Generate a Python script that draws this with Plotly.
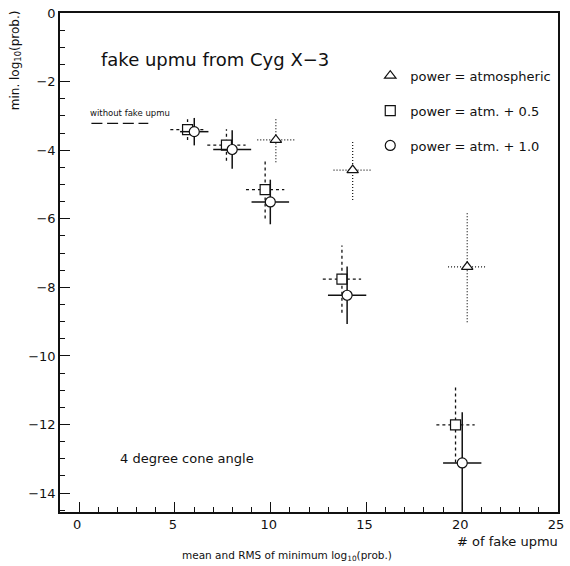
import plotly.graph_objects as go

# ---------------- data ----------------
atm_x = [10.27, 14.28, 20.26]
atm_y = [-3.70, -4.58, -7.40]
atm_ex = [0.97, 1.00, 1.00]
atm_ey = [0.65, 0.87, 1.62]

p05_x = [5.66, 7.69, 9.71, 13.72, 19.65]
p05_y = [-3.40, -3.85, -5.15, -7.76, -12.01]
p05_ex = [0.90, 1.00, 1.00, 1.00, 1.00]
p05_ey = [0.30, 0.46, 0.84, 0.98, 1.10]

p10_x = [6.01, 7.99, 9.98, 13.99, 20.0]
p10_y = [-3.46, -3.98, -5.51, -8.23, -13.12]
p10_ex = [0.74, 0.99, 0.98, 1.00, 1.00]
p10_ey = [0.40, 0.56, 0.65, 0.84, 1.48]

baseline_level = -3.22          # "without fake upmu"
baseline_x_span = [0.64, 3.61]

series_names = ["power = atmospheric", "power = atm. + 0.5", "power = atm. + 1.0"]

x_range = [-1, 25]
y_range = [-14.55, 0]

# ---------------- layout geometry ----------------
W, H = 570, 566
ML, MR, MT, MB = 60, 6, 10, 54
PW, PH = W - ML - MR, H - MT - MB


def px(xp):
    return (xp - ML) / PW


def py(yp):
    return (H - MB - yp) / PH


def cross_segments(xs, ys, exs, eys):
    hx, hy, vx, vy = [], [], [], []
    for x, y, ex, ey in zip(xs, ys, exs, eys):
        hx += [x - ex, x + ex, None]
        hy += [y, y, None]
        vx += [x, x, None]
        vy += [y - ey, y + ey, None]
    return hx, hy, vx, vy


FONT = "DejaVu Sans"
INK = "#111111"

fig = go.Figure()

styles = [
    (atm_x, atm_y, atm_ex, atm_ey, "triangle-up", "1px,2px", 1.2, series_names[0]),
    (p05_x, p05_y, p05_ex, p05_ey, "square", "3px,3px", 1.3, series_names[1]),
    (p10_x, p10_y, p10_ex, p10_ey, "circle", "solid", 1.5, series_names[2]),
]

for i, (xs, ys, exs, eys, sym, dash, lw, name) in enumerate(styles):
    hx, hy, vx, vy = cross_segments(xs, ys, exs, eys)
    for sx, sy in ((hx, hy), (vx, vy)):
        fig.add_trace(go.Scatter(
            x=sx, y=sy, mode="lines", showlegend=False, hoverinfo="skip",
            line=dict(color=INK, width=lw, dash=dash),
        ))
    fig.add_trace(go.Scatter(
        x=xs, y=ys, mode="markers", name=name, legendgroup=f"g{i}",
        marker=dict(symbol=sym, size=10, color="white",
                    line=dict(color=INK, width=1.2)),
    ))

fig.add_trace(go.Scatter(
    x=baseline_x_span, y=[baseline_level, baseline_level], mode="lines",
    showlegend=False, hoverinfo="skip",
    line=dict(color=INK, width=1.2, dash="11px,4.7px"),
))

axis_common = dict(
    showgrid=False, zeroline=False, showline=True, mirror=True,
    linecolor=INK, linewidth=1.6, ticks="inside", tickcolor=INK,
    tickwidth=1, ticklen=10,
    tickfont=dict(family=FONT, size=13, color=INK),
)

fig.update_xaxes(range=x_range, tick0=0, dtick=5, ticklabeloverflow="allow",
                 ticklabelshift=-2,
                 minor=dict(dtick=1, ticks="inside", ticklen=5, tickcolor=INK, tickwidth=1),
                 **axis_common)
fig.update_yaxes(range=y_range, tick0=0, dtick=2,
                 minor=dict(dtick=0.5, ticks="inside", ticklen=5, tickcolor=INK, tickwidth=1),
                 **axis_common)

annos = [
    dict(text="fake upmu from Cyg X\u22123", x=px(99), y=py(57), size=18, xanchor="left"),
    dict(text="without fake upmu", x=px(88), y=py(111), size=8.5, xanchor="left"),
    dict(text="4 degree cone angle", x=px(119), y=py(458), size=13, xanchor="left"),
    dict(text="# of fake upmu", x=px(566), y=py(542), size=13, xanchor="right"),
    dict(text="mean and RMS of minimum log<sub>10</sub>(prob.)", x=px(290), y=py(556), size=10.5, xanchor="center"),
]
for a in annos:
    fig.add_annotation(text=a["text"], x=a["x"], y=a["y"], xref="paper", yref="paper",
                       xanchor=a["xanchor"], yanchor="middle", showarrow=False,
                       font=dict(family=FONT, size=a["size"], color=INK))

fig.add_annotation(text="min. log<sub>10</sub>(prob.)", x=px(15), y=py(58), xref="paper", yref="paper",
                   textangle=-90, xanchor="center", yanchor="middle", showarrow=False,
                   font=dict(family=FONT, size=12, color=INK))

fig.update_layout(
    width=W, height=H,
    margin=dict(l=ML, r=MR, t=MT, b=MB, pad=0),
    paper_bgcolor="white", plot_bgcolor="white",
    showlegend=True,
    legend=dict(x=px(374), y=py(58), xanchor="left", yanchor="top",
                traceorder="grouped", tracegroupgap=15,
                bgcolor="rgba(0,0,0,0)", borderwidth=0,
                font=dict(family=FONT, size=13, color=INK)),
)

fig.write_html("out.html")
